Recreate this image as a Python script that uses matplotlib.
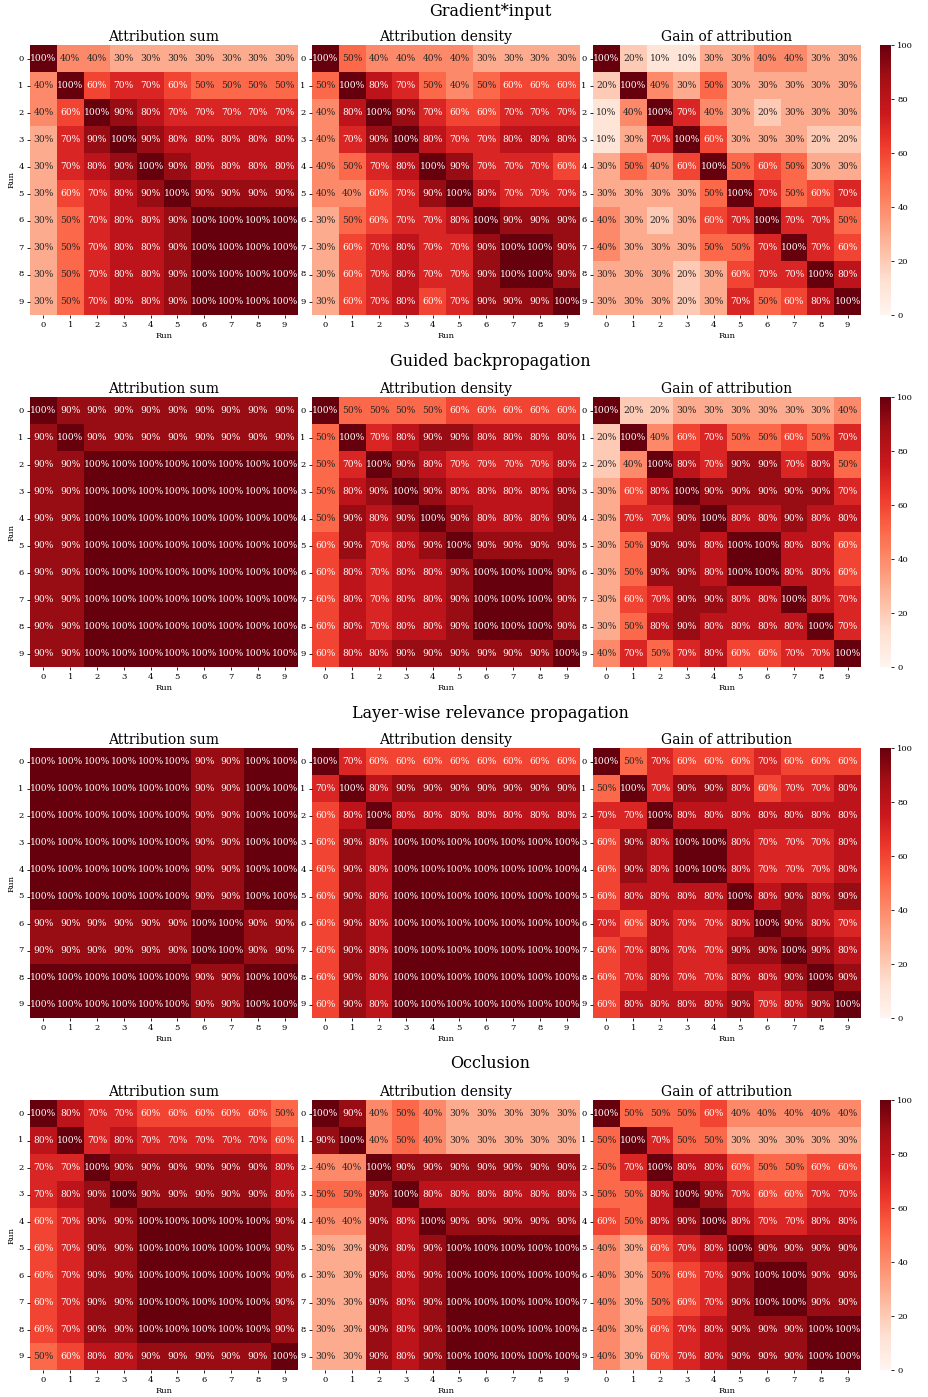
import numpy as np
import matplotlib
matplotlib.use("Agg")
import matplotlib.pyplot as plt
import seaborn as sns

# Agreement between runs (percent), one 10x10 matrix per method and metric
runs = list(range(10))
methods = ["Gradient*input", "Guided backpropagation",
           "Layer-wise relevance propagation", "Occlusion"]
metrics = ["Attribution sum", "Attribution density", "Gain of attribution"]

grad_sum = [
    [100, 40, 40, 30, 30, 30, 30, 30, 30, 30],
    [40, 100, 60, 70, 70, 60, 50, 50, 50, 50],
    [40, 60, 100, 90, 80, 70, 70, 70, 70, 70],
    [30, 70, 90, 100, 90, 80, 80, 80, 80, 80],
    [30, 70, 80, 90, 100, 90, 80, 80, 80, 80],
    [30, 60, 70, 80, 90, 100, 90, 90, 90, 90],
    [30, 50, 70, 80, 80, 90, 100, 100, 100, 100],
    [30, 50, 70, 80, 80, 90, 100, 100, 100, 100],
    [30, 50, 70, 80, 80, 90, 100, 100, 100, 100],
    [30, 50, 70, 80, 80, 90, 100, 100, 100, 100],
]
grad_density = [
    [100, 50, 40, 40, 40, 40, 30, 30, 30, 30],
    [50, 100, 80, 70, 50, 40, 50, 60, 60, 60],
    [40, 80, 100, 90, 70, 60, 60, 70, 70, 70],
    [40, 70, 90, 100, 80, 70, 70, 80, 80, 80],
    [40, 50, 70, 80, 100, 90, 70, 70, 70, 60],
    [40, 40, 60, 70, 90, 100, 80, 70, 70, 70],
    [30, 50, 60, 70, 70, 80, 100, 90, 90, 90],
    [30, 60, 70, 80, 70, 70, 90, 100, 100, 90],
    [30, 60, 70, 80, 70, 70, 90, 100, 100, 90],
    [30, 60, 70, 80, 60, 70, 90, 90, 90, 100],
]
grad_gain = [
    [100, 20, 10, 10, 30, 30, 40, 40, 30, 30],
    [20, 100, 40, 30, 50, 30, 30, 30, 30, 30],
    [10, 40, 100, 70, 40, 30, 20, 30, 30, 30],
    [10, 30, 70, 100, 60, 30, 30, 30, 20, 20],
    [30, 50, 40, 60, 100, 50, 60, 50, 30, 30],
    [30, 30, 30, 30, 50, 100, 70, 50, 60, 70],
    [40, 30, 20, 30, 60, 70, 100, 70, 70, 50],
    [40, 30, 30, 30, 50, 50, 70, 100, 70, 60],
    [30, 30, 30, 20, 30, 60, 70, 70, 100, 80],
    [30, 30, 30, 20, 30, 70, 50, 60, 80, 100],
]

guided_sum = [
    [100, 90, 90, 90, 90, 90, 90, 90, 90, 90],
    [90, 100, 90, 90, 90, 90, 90, 90, 90, 90],
    [90, 90, 100, 100, 100, 100, 100, 100, 100, 100],
    [90, 90, 100, 100, 100, 100, 100, 100, 100, 100],
    [90, 90, 100, 100, 100, 100, 100, 100, 100, 100],
    [90, 90, 100, 100, 100, 100, 100, 100, 100, 100],
    [90, 90, 100, 100, 100, 100, 100, 100, 100, 100],
    [90, 90, 100, 100, 100, 100, 100, 100, 100, 100],
    [90, 90, 100, 100, 100, 100, 100, 100, 100, 100],
    [90, 90, 100, 100, 100, 100, 100, 100, 100, 100],
]
guided_density = [
    [100, 50, 50, 50, 50, 60, 60, 60, 60, 60],
    [50, 100, 70, 80, 90, 90, 80, 80, 80, 80],
    [50, 70, 100, 90, 80, 70, 70, 70, 70, 80],
    [50, 80, 90, 100, 90, 80, 80, 80, 80, 90],
    [50, 90, 80, 90, 100, 90, 80, 80, 80, 90],
    [60, 90, 70, 80, 90, 100, 90, 90, 90, 90],
    [60, 80, 70, 80, 80, 90, 100, 100, 100, 90],
    [60, 80, 70, 80, 80, 90, 100, 100, 100, 90],
    [60, 80, 70, 80, 80, 90, 100, 100, 100, 90],
    [60, 80, 80, 90, 90, 90, 90, 90, 90, 100],
]
guided_gain = [
    [100, 20, 20, 30, 30, 30, 30, 30, 30, 40],
    [20, 100, 40, 60, 70, 50, 50, 60, 50, 70],
    [20, 40, 100, 80, 70, 90, 90, 70, 80, 50],
    [30, 60, 80, 100, 90, 90, 90, 90, 90, 70],
    [30, 70, 70, 90, 100, 80, 80, 90, 80, 80],
    [30, 50, 90, 90, 80, 100, 100, 80, 80, 60],
    [30, 50, 90, 90, 80, 100, 100, 80, 80, 60],
    [30, 60, 70, 90, 90, 80, 80, 100, 80, 70],
    [30, 50, 80, 90, 80, 80, 80, 80, 100, 70],
    [40, 70, 50, 70, 80, 60, 60, 70, 70, 100],
]

lrp_sum = [
    [100, 100, 100, 100, 100, 100, 90, 90, 100, 100],
    [100, 100, 100, 100, 100, 100, 90, 90, 100, 100],
    [100, 100, 100, 100, 100, 100, 90, 90, 100, 100],
    [100, 100, 100, 100, 100, 100, 90, 90, 100, 100],
    [100, 100, 100, 100, 100, 100, 90, 90, 100, 100],
    [100, 100, 100, 100, 100, 100, 90, 90, 100, 100],
    [90, 90, 90, 90, 90, 90, 100, 100, 90, 90],
    [90, 90, 90, 90, 90, 90, 100, 100, 90, 90],
    [100, 100, 100, 100, 100, 100, 90, 90, 100, 100],
    [100, 100, 100, 100, 100, 100, 90, 90, 100, 100],
]
lrp_density = [
    [100, 70, 60, 60, 60, 60, 60, 60, 60, 60],
    [70, 100, 80, 90, 90, 90, 90, 90, 90, 90],
    [60, 80, 100, 80, 80, 80, 80, 80, 80, 80],
    [60, 90, 80, 100, 100, 100, 100, 100, 100, 100],
    [60, 90, 80, 100, 100, 100, 100, 100, 100, 100],
    [60, 90, 80, 100, 100, 100, 100, 100, 100, 100],
    [60, 90, 80, 100, 100, 100, 100, 100, 100, 100],
    [60, 90, 80, 100, 100, 100, 100, 100, 100, 100],
    [60, 90, 80, 100, 100, 100, 100, 100, 100, 100],
    [60, 90, 80, 100, 100, 100, 100, 100, 100, 100],
]
lrp_gain = [
    [100, 50, 70, 60, 60, 60, 70, 60, 60, 60],
    [50, 100, 70, 90, 90, 80, 60, 70, 70, 80],
    [70, 70, 100, 80, 80, 80, 80, 80, 80, 80],
    [60, 90, 80, 100, 100, 80, 70, 70, 70, 80],
    [60, 90, 80, 100, 100, 80, 70, 70, 70, 80],
    [60, 80, 80, 80, 80, 100, 80, 90, 80, 90],
    [70, 60, 80, 70, 70, 80, 100, 90, 80, 70],
    [60, 70, 80, 70, 70, 90, 90, 100, 90, 80],
    [60, 70, 80, 70, 70, 80, 80, 90, 100, 90],
    [60, 80, 80, 80, 80, 90, 70, 80, 90, 100],
]

occ_sum = [
    [100, 80, 70, 70, 60, 60, 60, 60, 60, 50],
    [80, 100, 70, 80, 70, 70, 70, 70, 70, 60],
    [70, 70, 100, 90, 90, 90, 90, 90, 90, 80],
    [70, 80, 90, 100, 90, 90, 90, 90, 90, 80],
    [60, 70, 90, 90, 100, 100, 100, 100, 100, 90],
    [60, 70, 90, 90, 100, 100, 100, 100, 100, 90],
    [60, 70, 90, 90, 100, 100, 100, 100, 100, 90],
    [60, 70, 90, 90, 100, 100, 100, 100, 100, 90],
    [60, 70, 90, 90, 100, 100, 100, 100, 100, 90],
    [50, 60, 80, 80, 90, 90, 90, 90, 90, 100],
]
occ_density = [
    [100, 90, 40, 50, 40, 30, 30, 30, 30, 30],
    [90, 100, 40, 50, 40, 30, 30, 30, 30, 30],
    [40, 40, 100, 90, 90, 90, 90, 90, 90, 90],
    [50, 50, 90, 100, 80, 80, 80, 80, 80, 80],
    [40, 40, 90, 80, 100, 90, 90, 90, 90, 90],
    [30, 30, 90, 80, 90, 100, 100, 100, 100, 100],
    [30, 30, 90, 80, 90, 100, 100, 100, 100, 100],
    [30, 30, 90, 80, 90, 100, 100, 100, 100, 100],
    [30, 30, 90, 80, 90, 100, 100, 100, 100, 100],
    [30, 30, 90, 80, 90, 100, 100, 100, 100, 100],
]
occ_gain = [
    [100, 50, 50, 50, 60, 40, 40, 40, 40, 40],
    [50, 100, 70, 50, 50, 30, 30, 30, 30, 30],
    [50, 70, 100, 80, 80, 60, 50, 50, 60, 60],
    [50, 50, 80, 100, 90, 70, 60, 60, 70, 70],
    [60, 50, 80, 90, 100, 80, 70, 70, 80, 80],
    [40, 30, 60, 70, 80, 100, 90, 90, 90, 90],
    [40, 30, 50, 60, 70, 90, 100, 100, 90, 90],
    [40, 30, 50, 60, 70, 90, 100, 100, 90, 90],
    [40, 30, 60, 70, 80, 90, 90, 90, 100, 100],
    [40, 30, 60, 70, 80, 90, 90, 90, 100, 100],
]

matrices = [
    [grad_sum, grad_density, grad_gain],
    [guided_sum, guided_density, guided_gain],
    [lrp_sum, lrp_density, lrp_gain],
    [occ_sum, occ_density, occ_gain],
]

plt.rcParams["font.family"] = "DejaVu Serif"

W, H = 929, 1397
fig = plt.figure(figsize=(W / 100, H / 100), dpi=100)

# layout in pixels
col_left = [30, 312, 593]
panel_w = 268
panel_h = 270
row_top = [45, 397, 748, 1100]
row_title_y = [11, 362, 713, 1064]
cbar_left, cbar_w = 880, 11


def px_axes(left, top, width, height):
    return fig.add_axes([left / W, 1 - (top + height) / H, width / W, height / H])


for r, method in enumerate(methods):
    fig.text(490 / W, 1 - row_title_y[r] / H, method, ha="center", va="center",
             fontsize=11.5)
    cax = px_axes(cbar_left, row_top[r], cbar_w, panel_h)
    for c, metric in enumerate(metrics):
        data = np.array(matrices[r][c])
        labels = np.array([[f"{v}%" for v in row] for row in data])
        ax = px_axes(col_left[c], row_top[r], panel_w, panel_h)
        sns.heatmap(data, ax=ax, cmap="Reds", vmin=0, vmax=100,
                    annot=labels, fmt="", annot_kws={"size": 6.6},
                    cbar=(c == 0), cbar_ax=cax if c == 0 else None,
                    xticklabels=runs, yticklabels=runs)
        # dark text on the pale cells, white on the rest
        for txt, v in zip(ax.texts, data.ravel()):
            txt.set_color("#262626" if v <= 50 else "white")
        ax.set_title(metric, fontsize=10, pad=3)
        ax.set_xlabel("Run", fontsize=6, labelpad=2)
        if c == 0:
            ax.set_ylabel("Run", fontsize=6, labelpad=2)
        ax.tick_params(labelsize=6, length=2.5, width=0.6, pad=2)
        ax.set_yticklabels(runs, rotation=0)
        ax.set_xticklabels(runs, rotation=0)
    cax.tick_params(labelsize=6, length=2.5, width=0.6, pad=2)
    cax.set_yticks([0, 20, 40, 60, 80, 100])

fig.savefig("out.png", dpi=100)
